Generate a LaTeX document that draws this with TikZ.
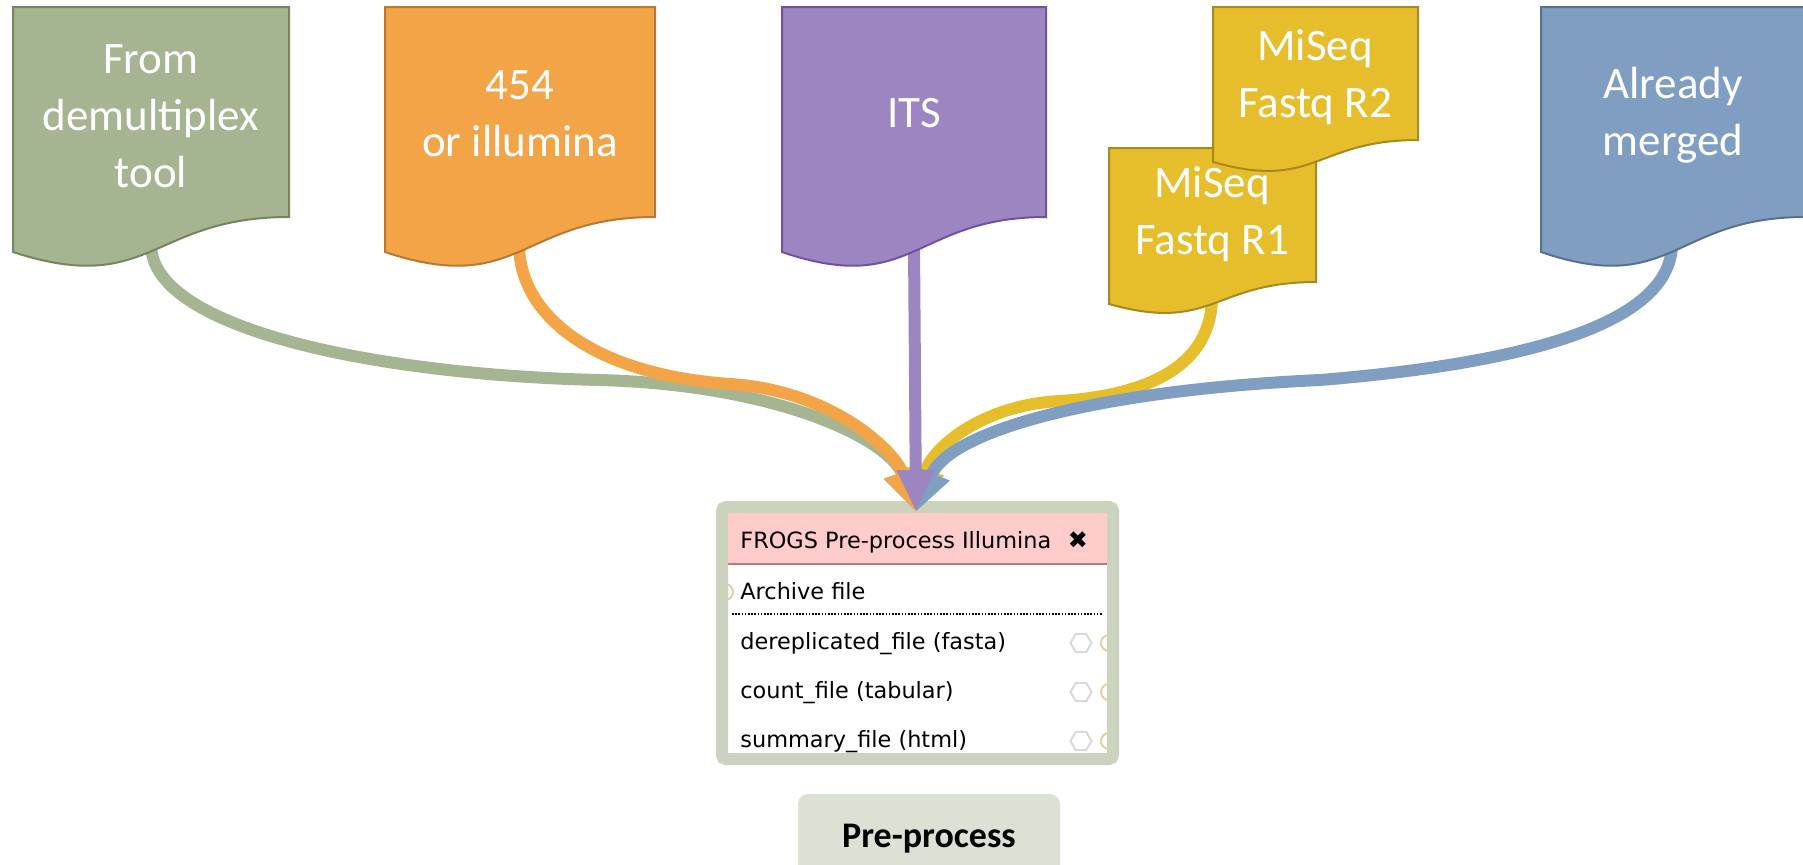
\documentclass[tikz,border=0pt]{standalone}
\usepackage{fontspec}
\setmainfont{Carlito}
\newfontfamily\galaxy{DejaVu Sans}
\usetikzlibrary{arrows.meta,shapes.geometric}
\definecolor{sage}{HTML}{A5B592}
\definecolor{sagedark}{HTML}{75855E}
\definecolor{amber}{HTML}{F3A446}
\definecolor{amberdark}{HTML}{B8782E}
\definecolor{lilac}{HTML}{9C85C0}
\definecolor{lilacdark}{HTML}{6F52A6}
\definecolor{mustard}{HTML}{E6BD2A}
\definecolor{mustarddark}{HTML}{A8891C}
\definecolor{steel}{HTML}{7F9EC2}
\definecolor{steeldark}{HTML}{587192}
\definecolor{boxgray}{HTML}{CBD3BE}
\definecolor{headpink}{HTML}{FFCCCC}
\definecolor{headred}{HTML}{C27474}
\definecolor{porttan}{HTML}{E3D19A}
\definecolor{labelgray}{HTML}{DCE2D3}
\begin{document}
\begin{tikzpicture}[x=0.5pt, y=-0.5pt, >={Triangle[length=21pt,width=17.5pt]},
  doc/.style={line width=1pt},
  doctext/.style={text=white, align=center, font=\fontsize{22.5}{28.5}\selectfont},
  flow/.style={line width=6pt, ->},
  row/.style={anchor=base west, inner sep=0pt, font=\galaxy\fontsize{11.2}{13}\selectfont},
  port/.style={circle, draw=porttan, line width=1pt, fill=white, minimum size=8pt, inner sep=0pt},
  gear/.style={regular polygon, regular polygon sides=6, draw=black!15, line width=1pt, minimum size=10.5pt, inner sep=0pt}]
  \useasboundingbox (0,0) rectangle (1803,864);
  % where the flows leave the documents
  \coordinate (demux-out) at (151,245);
  \coordinate (reads-out) at (519,245);
  \coordinate (its-out) at (914,245);
  \coordinate (r1-out) at (1212,296);
  \coordinate (merged-out) at (1672,245);
  \coordinate (tip) at (916,512);

  % galaxy tool box
  \node[fill=white, minimum width=189.5pt, minimum height=120pt, inner sep=0pt, outer sep=0pt] (tool) at (917.5,633) {};
  \fill[headpink] (tool.north west) rectangle ([yshift=-25.5pt]tool.north east);
  \draw[headred, line width=1pt] ([yshift=-25.5pt]tool.north west) -- ([yshift=-25.5pt]tool.north east);
  \node[row] (title) at (740,548) {FROGS Pre-process Illumina};
  \node[font=\galaxy\fontsize{12}{12}\selectfont] (close) at (1078,540) {✖};
  \node[row] (archive) at (740,599) {Archive file};
  \draw[line width=0.8pt, dash pattern=on 0.8pt off 0.8pt] (732,614) -- (1103,614);
  \node[row] (derep) at (740,649) {dereplicated\_file (fasta)};
  \node[row] (count) at (740,698) {count\_file (tabular)};
  \node[row] (summary) at (740,747) {summary\_file (html)};
  \node[port] (in) at (725,592) {};
  \node[gear] (g1) at (1081,643) {};
  \node[gear] (g2) at (1081,692) {};
  \node[gear] (g3) at (1081,741) {};
  \node[port] (out1) at (1109,643) {};
  \node[port] (out2) at (1109,692) {};
  \node[port] (out3) at (1109,741) {};
  \draw[boxgray, line width=6pt, rounded corners=2pt] ([shift={(-3pt,3pt)}]tool.north west) rectangle ([shift={(3pt,-3pt)}]tool.south east);

  \node[fill=labelgray, rounded corners=5pt, minimum width=131pt, minimum height=45pt, font=\bfseries\fontsize{18}{18}\selectfont] (stage) at (929,839) {Pre-process};

  % flows into the tool
  \draw[flow, sage] (demux-out) .. controls (152,330) and (380,375) .. (600,380) .. controls (780,385) and (890,440) .. (tip);
  \draw[flow, amber] (reads-out) .. controls (520,320) and (600,375) .. (730,384) .. controls (830,390) and (895,450) .. (tip);
  \draw[flow, mustard] (r1-out) .. controls (1212,365) and (1150,395) .. (1060,401) .. controls (980,405) and (930,450) .. (tip);
  \draw[flow, steel] (merged-out) .. controls (1670,320) and (1540,362) .. (1320,380) .. controls (1100,390) and (950,430) .. (tip);
  \draw[flow, lilac] (its-out) -- (tip);

  % input documents
  \filldraw[doc, fill=sage, draw=sagedark] (13,7) -- (289,7) -- (289,217) .. controls (151,217) and (151,297) .. (13,252) -- cycle;
  \node[doctext] (demux) at (151,116) {From\\demultiplex\\tool};
  \filldraw[doc, fill=amber, draw=amberdark] (385,7) -- (655,7) -- (655,217) .. controls (520,217) and (520,297) .. (385,252) -- cycle;
  \node[doctext] (reads) at (520,114) {454\\or illumina};
  \filldraw[doc, fill=lilac, draw=lilacdark] (782,7) -- (1046,7) -- (1046,217) .. controls (914,217) and (914,297) .. (782,252) -- cycle;
  \node[doctext] (its) at (914,113) {ITS};
  \filldraw[doc, fill=mustard, draw=mustarddark] (1109,148) -- (1316,148) -- (1316,282) .. controls (1212.5,282) and (1212.5,333) .. (1109,304) -- cycle;
  \node[doctext] (fastqR1) at (1212,214) {MiSeq\\Fastq R1};
  \filldraw[doc, fill=mustard, draw=mustarddark] (1213,7) -- (1418,7) -- (1418,140) .. controls (1315.5,140) and (1315.5,191) .. (1213,162) -- cycle;
  \node[doctext] (fastqR2) at (1315,77) {MiSeq\\Fastq R2};
  \filldraw[doc, fill=steel, draw=steeldark] (1541,7) -- (1805,7) -- (1805,217) .. controls (1673,217) and (1673,297) .. (1541,252) -- cycle;
  \node[doctext] (merged) at (1673,115) {Already\\merged};
\end{tikzpicture}
\end{document}
